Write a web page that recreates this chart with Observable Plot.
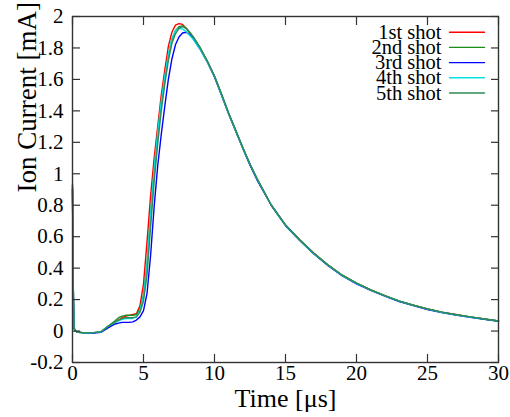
<!DOCTYPE html>
<html><head><meta charset="utf-8">
<script src="https://cdn.jsdelivr.net/npm/d3@7"></script>
<script src="https://cdn.jsdelivr.net/npm/@observablehq/plot@0.6"></script>
<style>html,body{margin:0;padding:0;background:#fff} svg{display:block} svg text{font-family:"Liberation Serif", serif}</style>
</head><body><div id="chart"></div>
<script>
const times = [0,0.05,0.1,0.2,0.4,0.7,1.0,1.5,2.0,2.5,3.0,3.25,3.5,3.75,4.0,4.25,4.5,4.75,5.0,5.25,5.5,5.75,6.0,6.25,6.5,6.75,7.0,7.25,7.5,7.75,8.0,8.25,8.5,9.0,9.5,10,10.5,11,11.5,12,12.5,13,14,15,16,17,18,19,20,21,22,23,24,25,26,27,28,29,30];

const shot1 = [0.90,0.30,0.02,0.0,-0.008,-0.01,-0.012,-0.01,-0.005,0.025,0.055,0.07,0.085,0.095,0.10,0.105,0.11,0.16,0.30,0.57,0.86,1.10,1.30,1.50,1.66,1.81,1.90,1.945,1.955,1.95,1.925,1.895,1.865,1.795,1.715,1.62,1.50,1.38,1.27,1.16,1.06,0.965,0.80,0.675,0.58,0.495,0.42,0.355,0.305,0.262,0.225,0.19,0.165,0.14,0.12,0.105,0.09,0.077,0.064];
const shot2 = [0.92,0.31,0.02,0.0,-0.008,-0.01,-0.012,-0.01,-0.005,0.03,0.065,0.085,0.095,0.10,0.10,0.10,0.105,0.14,0.23,0.43,0.74,1.02,1.25,1.45,1.61,1.75,1.85,1.91,1.935,1.94,1.925,1.90,1.87,1.80,1.715,1.62,1.505,1.385,1.275,1.165,1.06,0.97,0.80,0.675,0.58,0.495,0.42,0.355,0.305,0.262,0.225,0.191,0.165,0.14,0.12,0.104,0.09,0.077,0.064];
const shot3 = [0.90,0.30,0.02,0.0,-0.008,-0.01,-0.012,-0.012,-0.008,0.02,0.045,0.05,0.055,0.055,0.055,0.058,0.07,0.09,0.13,0.24,0.48,0.79,1.05,1.25,1.43,1.60,1.73,1.82,1.87,1.895,1.90,1.885,1.86,1.79,1.71,1.615,1.50,1.38,1.27,1.16,1.055,0.96,0.80,0.67,0.575,0.49,0.415,0.35,0.30,0.258,0.222,0.188,0.162,0.137,0.118,0.102,0.088,0.075,0.062];
const shot4 = [0.94,0.32,0.025,0.0,-0.008,-0.01,-0.012,-0.01,-0.005,0.03,0.055,0.065,0.075,0.08,0.08,0.08,0.09,0.13,0.22,0.42,0.74,1.03,1.26,1.46,1.62,1.76,1.86,1.91,1.925,1.92,1.905,1.88,1.855,1.79,1.71,1.62,1.50,1.38,1.27,1.16,1.06,0.965,0.80,0.672,0.578,0.492,0.418,0.352,0.303,0.26,0.224,0.19,0.163,0.139,0.119,0.103,0.089,0.076,0.063];
const shot5 = [0.93,0.32,0.025,0.0,-0.008,-0.01,-0.012,-0.01,-0.005,0.03,0.06,0.07,0.08,0.085,0.085,0.085,0.09,0.12,0.19,0.36,0.66,0.95,1.19,1.40,1.57,1.72,1.83,1.89,1.925,1.935,1.925,1.90,1.87,1.80,1.715,1.62,1.505,1.385,1.275,1.165,1.06,0.968,0.80,0.674,0.579,0.494,0.419,0.354,0.304,0.261,0.224,0.19,0.164,0.14,0.12,0.104,0.09,0.077,0.064];

const seriesNames = ["1st shot","2nd shot","3rd shot","4th shot","5th shot"];
const seriesValues = [shot1, shot2, shot3, shot4, shot5];
const seriesColors = ["#ff0000","#1a8c1a","#0000ff","#00e0e0","#2e8b57"];
const xTicks = [0,5,10,15,20,25,30];
const yTicks = [-0.2,0,0.2,0.4,0.6,0.8,1,1.2,1.4,1.6,1.8,2];
const xTitle = "Time [μs]";
const yTitle = "Ion Current [mA]";

const rows = [];
seriesNames.forEach((name, i) => {
  times.forEach((t, j) => rows.push({series: name, t, v: seriesValues[i][j]}));
});

const font = "Liberation Serif, serif";
const axisColor = "#333";
const lineShape = {draw(context, l) { context.moveTo(0, 0); context.lineTo(0, -l); }};

const legendMarks = seriesNames.flatMap((name, i) => [
  Plot.text([name], {text: d => d, frameAnchor: "top-right", dx: -57, dy: 15.7 + 15.2 * i,
    textAnchor: "end", lineAnchor: "middle", fontSize: 20.5, fill: "#000", fontFamily: font}),
  Plot.vector([name], {frameAnchor: "top-right", dx: -49, dy: 15.7 + 15.2 * i, rotate: 90,
    length: 35, anchor: "start", stroke: seriesColors[i], strokeWidth: 1.4, shape: lineShape})
]);

const chart = Plot.plot({
  width: 510, height: 417,
  marginLeft: 72, marginRight: 12, marginTop: 16, marginBottom: 55,
  style: {fontFamily: font, fontSize: "20px", background: "#fff", color: "#000"},
  x: {domain: [0, 30], label: null},
  y: {domain: [-0.2, 2], label: null},
  color: {domain: seriesNames, range: seriesColors},
  marks: [
    Plot.line(rows, {x: "t", y: "v", z: "series", stroke: "series", strokeWidth: 1.4}),
    Plot.axisX(xTicks, {anchor: "bottom", tickSize: -8, text: null, stroke: axisColor, strokeWidth: 1.2}),
    Plot.axisX(xTicks, {anchor: "top", tickSize: -8, text: null, stroke: axisColor, strokeWidth: 1.2}),
    Plot.axisY(yTicks, {anchor: "left", tickSize: -8, text: null, stroke: axisColor, strokeWidth: 1.2}),
    Plot.axisY(yTicks, {anchor: "right", tickSize: -8, text: null, stroke: axisColor, strokeWidth: 1.2}),
    Plot.axisX(xTicks, {anchor: "bottom", tickSize: 0, tickPadding: 3, fontSize: 21, fill: "#000",
      fontFamily: font, tickFormat: d => String(d), label: null}),
    Plot.axisY(yTicks, {anchor: "left", tickSize: 0, tickPadding: 9, fontSize: 21, fill: "#000",
      fontFamily: font, tickFormat: d => String(+d.toFixed(1)), label: null}),
    Plot.frame({stroke: axisColor, strokeWidth: 1.4}),
    Plot.text([xTitle], {text: d => d, frameAnchor: "bottom", dy: 36.5, lineAnchor: "middle",
      fontSize: 26, fill: "#000", fontFamily: font}),
    Plot.text([yTitle], {text: d => d, frameAnchor: "left", dx: -45, dy: 3, rotate: -90, lineAnchor: "middle",
      fontSize: 27, fill: "#000", fontFamily: font}),
    ...legendMarks
  ]
});
document.getElementById("chart").appendChild(chart);
</script>
</body></html>
